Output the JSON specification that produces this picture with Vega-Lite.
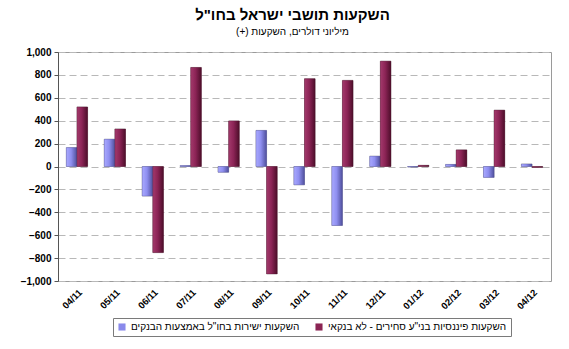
{
  "$schema": "https://vega.github.io/schema/vega-lite/v6.json",
  "autosize": {"type": "none"},
  "width": 493,
  "height": 229,
  "padding": {"left": 58, "top": 52, "right": 18, "bottom": 68},
  "background": "white",
  "title": {
    "text": "השקעות תושבי ישראל בחו\"ל",
    "subtitle": "(+) מיליוני דולרים, השקעות",
    "anchor": "middle",
    "dx": -12,
    "offset": 10,
    "font": "Liberation Sans",
    "fontSize": 15,
    "fontWeight": "bold",
    "color": "#000000",
    "subtitleFont": "Liberation Sans",
    "subtitleFontSize": 10,
    "subtitleColor": "#000000",
    "subtitlePadding": 4
  },
  "config": {
    "view": {"stroke": "#9a9a9a", "strokeWidth": 1},
    "font": "Liberation Sans"
  },
  "data": {
    "values": [
      {"month": "04/11", "series": "השקעות ישירות בחו\"ל באמצעות הבנקים", "value": 165},
      {"month": "04/11", "series": "השקעות פיננסיות בני\"ע סחירים - לא בנקאי", "value": 520},
      {"month": "05/11", "series": "השקעות ישירות בחו\"ל באמצעות הבנקים", "value": 238},
      {"month": "05/11", "series": "השקעות פיננסיות בני\"ע סחירים - לא בנקאי", "value": 328},
      {"month": "06/11", "series": "השקעות ישירות בחו\"ל באמצעות הבנקים", "value": -258},
      {"month": "06/11", "series": "השקעות פיננסיות בני\"ע סחירים - לא בנקאי", "value": -752},
      {"month": "07/11", "series": "השקעות ישירות בחו\"ל באמצעות הבנקים", "value": 8},
      {"month": "07/11", "series": "השקעות פיננסיות בני\"ע סחירים - לא בנקאי", "value": 865},
      {"month": "08/11", "series": "השקעות ישירות בחו\"ל באמצעות הבנקים", "value": -50},
      {"month": "08/11", "series": "השקעות פיננסיות בני\"ע סחירים - לא בנקאי", "value": 398},
      {"month": "09/11", "series": "השקעות ישירות בחו\"ל באמצעות הבנקים", "value": 315},
      {"month": "09/11", "series": "השקעות פיננסיות בני\"ע סחירים - לא בנקאי", "value": -938},
      {"month": "10/11", "series": "השקעות ישירות בחו\"ל באמצעות הבנקים", "value": -160},
      {"month": "10/11", "series": "השקעות פיננסיות בני\"ע סחירים - לא בנקאי", "value": 767},
      {"month": "11/11", "series": "השקעות ישירות בחו\"ל באמצעות הבנקים", "value": -515},
      {"month": "11/11", "series": "השקעות פיננסיות בני\"ע סחירים - לא בנקאי", "value": 752},
      {"month": "12/11", "series": "השקעות ישירות בחו\"ל באמצעות הבנקים", "value": 90},
      {"month": "12/11", "series": "השקעות פיננסיות בני\"ע סחירים - לא בנקאי", "value": 920},
      {"month": "01/12", "series": "השקעות ישירות בחו\"ל באמצעות הבנקים", "value": -5},
      {"month": "01/12", "series": "השקעות פיננסיות בני\"ע סחירים - לא בנקאי", "value": 10},
      {"month": "02/12", "series": "השקעות ישירות בחו\"ל באמצעות הבנקים", "value": 18},
      {"month": "02/12", "series": "השקעות פיננסיות בני\"ע סחירים - לא בנקאי", "value": 145},
      {"month": "03/12", "series": "השקעות ישירות בחו\"ל באמצעות הבנקים", "value": -95},
      {"month": "03/12", "series": "השקעות פיננסיות בני\"ע סחירים - לא בנקאי", "value": 492},
      {"month": "04/12", "series": "השקעות ישירות בחו\"ל באמצעות הבנקים", "value": 22},
      {"month": "04/12", "series": "השקעות פיננסיות בני\"ע סחירים - לא בנקאי", "value": -8}
    ]
  },
  "encoding": {
    "x": {
      "field": "month",
      "type": "nominal",
      "sort": null,
      "scale": {"paddingInner": 0.44, "paddingOuter": 0.22},
      "axis": {
        "title": null,
        "domain": false,
        "ticks": false,
        "labelAngle": -45,
        "labelFont": "Liberation Sans",
        "labelFontSize": 9.5,
        "labelFontWeight": "bold",
        "labelColor": "#000000",
        "labelPadding": 6,
        "grid": false
      }
    },
    "y": {
      "field": "value",
      "type": "quantitative",
      "scale": {"domain": [-1000, 1000], "nice": false},
      "axis": {
        "title": null,
        "values": [-1000, -800, -600, -400, -200, 0, 200, 400, 600, 800, 1000],
        "tickCount": 11,
        "labelOverlap": false,
        "format": ",d",
        "labelFont": "Liberation Sans",
        "labelFontSize": 10,
        "labelFontWeight": "bold",
        "labelColor": "#000000",
        "labelPadding": 3,
        "domainColor": "#555555",
        "tickColor": "#555555",
        "tickSize": 4,
        "gridColor": "#b8b8b8",
        "gridDash": [7, 4],
        "gridWidth": 1
      }
    },
    "xOffset": {"field": "series", "type": "nominal", "sort": null}
  },
  "layer": [
    {
      "mark": {"type": "bar", "stroke": "#5a5a5a", "strokeWidth": 0.3},
      "encoding": {
        "color": {
          "field": "series",
          "type": "nominal",
          "sort": null,
          "scale": {"range": ["#8a8aeb", "#8b2454"]},
          "legend": {
            "title": null,
            "orient": "none",
            "legendX": 55,
            "legendY": 266,
            "direction": "horizontal",
            "symbolType": "square",
            "symbolSize": 50,
            "symbolStrokeWidth": 0,
            "labelFont": "Liberation Sans",
            "labelFontSize": 10,
            "labelColor": "#000000",
            "columnPadding": 14,
            "strokeColor": "#7a7a7a",
            "padding": 4,
            "labelLimit": 300
          }
        }
      }
    },
    {
      "transform": [{"filter": "datum.series === 'השקעות ישירות בחו\"ל באמצעות הבנקים'"}],
      "mark": {
        "type": "bar",
        "stroke": "#4a4a8a",
        "strokeWidth": 0.3,
        "color": {
          "gradient": "linear",
          "x1": 0, "y1": 0, "x2": 1, "y2": 0,
          "stops": [
            {"offset": 0, "color": "#a9a9ff"},
            {"offset": 0.45, "color": "#8f8ff0"},
            {"offset": 1, "color": "#4f4f9c"}
          ]
        }
      }
    },
    {
      "transform": [{"filter": "datum.series === 'השקעות פיננסיות בני\"ע סחירים - לא בנקאי'"}],
      "mark": {
        "type": "bar",
        "stroke": "#4a1028",
        "strokeWidth": 0.3,
        "color": {
          "gradient": "linear",
          "x1": 0, "y1": 0, "x2": 1, "y2": 0,
          "stops": [
            {"offset": 0, "color": "#a33a6c"},
            {"offset": 0.45, "color": "#8c2456"},
            {"offset": 1, "color": "#4d0e2a"}
          ]
        }
      }
    },
    {
      "mark": {"type": "rule", "color": "#333333", "strokeWidth": 1},
      "encoding": {"y": {"datum": 0}, "xOffset": null}
    }
  ]
}
